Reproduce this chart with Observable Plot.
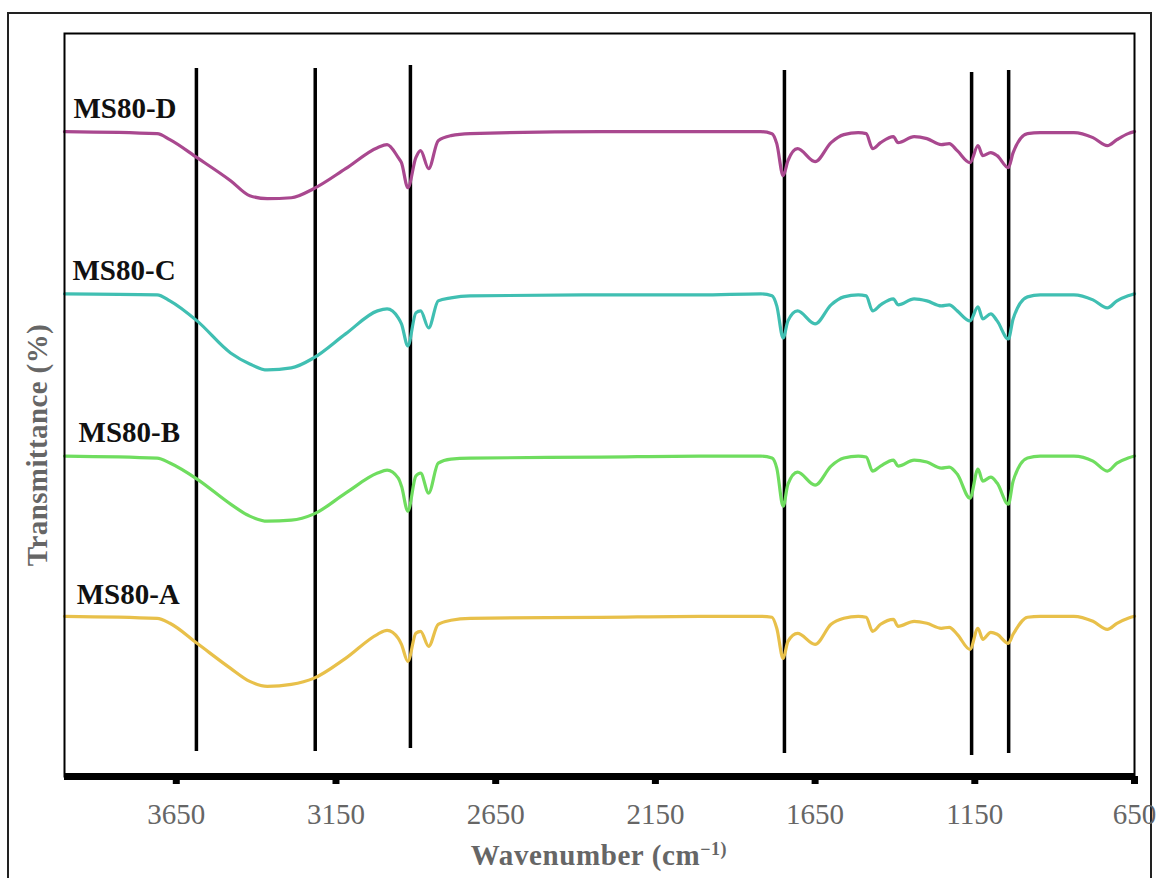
<!DOCTYPE html>
<html>
<head>
<meta charset="utf-8">
<script src="https://cdn.jsdelivr.net/npm/d3@7"></script>
<script src="https://cdn.jsdelivr.net/npm/@observablehq/plot@0.6"></script>
<style>
  body { margin: 0; background: #fff; width: 1156px; height: 878px; overflow: hidden; position: relative; font-family: "Liberation Serif", "Times New Roman", serif; }
  #outer { position: absolute; left: 7px; top: 12px; width: 1145px; height: 880px; border: 2px solid #222; box-sizing: border-box; }
  #chart { position: absolute; left: 0; top: 0; }
  #xlabel { position: absolute; left: 64px; width: 1070px; top: 838px; text-align: center; font-weight: bold; font-size: 29px; letter-spacing: 0.6px; color: #666; line-height: 34px; }
  #xlabel sup { font-size: 18px; vertical-align: 10px; line-height: 0; }
  #ylabel { position: absolute; left: 37px; top: 445px; transform: translate(-50%, -50%) rotate(-90deg); white-space: nowrap; font-weight: bold; font-size: 29px; letter-spacing: 0.4px; color: #666; }
</style>
</head>
<body>
<div id="outer"></div>
<div id="chart"></div>
<div id="ylabel">Transmittance (%)</div>
<div id="xlabel">Wavenumber (cm<sup>−1)</sup></div>
<script>
// Wavenumbers (cm-1) at which the spectra were read
const wavenumber = [4000,3710,3670,3585,3480,3420,3365,3290,3220,3120,
  3020,2990,2955,2945,2925,2900,2885,2860,2830,2790,
  2730,2320,2010,1820,1785,1770,1750,1735,1705,1650,
  1600,1560,1515,1490,1470,1445,1405,1390,1340,1300,
  1255,1230,1205,1165,1140,1125,1100,1080,1045,1030,
  985,945,840,780,735,705,670,650];

// Offset transmittance of each sample (stacked spectra)
const ms80D = [128.8,128.4,127.2,123.6,119.0,116.0,115.4,115.6,117.4,121.4,
  125.6,126.2,123.6,122.6,117.6,123.6,125.0,121.4,127.0,128.0,
  128.4,128.8,128.8,128.8,128.4,126.4,120.0,123.0,125.4,122.8,
  126.6,128.2,128.6,128.4,125.4,126.6,127.8,126.6,127.8,127.4,
  126.2,126.4,125.0,122.6,126.0,124.0,124.6,124.0,121.6,124.6,
  128.4,128.6,128.6,127.6,126.0,127.2,128.4,128.8];
const ms80C = [96.4,96.2,95.0,91.0,84.6,82.4,81.2,81.6,83.6,88.4,
  93.0,93.4,91.6,90.4,86.0,92.6,93.0,89.6,95.0,95.6,
  96.0,96.2,96.2,96.4,96.0,94.0,87.6,91.0,93.0,90.4,
  94.2,95.8,96.2,96.0,93.0,94.2,95.4,94.2,95.4,95.0,
  94.0,94.2,93.0,91.0,93.8,91.4,92.4,91.0,87.4,91.4,
  95.8,96.2,96.2,95.2,93.6,95.0,96.0,96.4];
const ms80B = [64.0,63.6,62.6,59.4,54.4,52.0,51.0,51.2,52.4,56.6,
  60.6,61.2,59.6,58.0,53.0,60.0,60.6,56.6,62.6,63.4,
  63.6,63.8,64.0,64.0,63.6,61.6,54.0,58.4,60.8,58.2,
  62.0,63.6,64.0,63.8,61.0,62.0,63.2,62.0,63.2,62.8,
  61.6,61.8,60.4,55.6,61.4,59.0,59.8,58.6,54.4,59.0,
  63.6,64.0,64.0,63.0,61.0,62.6,63.6,64.0];
const ms80A = [32.0,31.6,30.6,26.6,21.6,19.0,18.0,18.4,19.6,23.6,
  28.4,29.2,27.6,26.4,23.0,28.6,29.0,26.0,30.4,31.2,
  31.6,31.8,32.0,32.0,31.8,29.6,23.6,27.0,28.6,26.4,
  30.4,31.6,32.0,31.8,29.0,30.4,31.4,30.0,31.0,30.6,
  29.6,29.8,28.4,25.4,29.6,27.4,28.8,28.4,26.6,28.4,
  31.8,32.0,32.0,31.0,29.4,30.6,31.6,32.0];

const seriesNames = ["MS80-D", "MS80-C", "MS80-B", "MS80-A"];
const seriesValues = [ms80D, ms80C, ms80B, ms80A];
const seriesColors = ["#a9488f", "#40bfb2", "#6fdd5f", "#e8c04a"];

// Series label anchor (wavenumber, transmittance)
const labelWn = [3972, 3975, 3956, 3962];
const labelT = [133.4, 101.0, 68.6, 36.4];

// Marker (band) lines
const bandWn = [3587, 3215, 2917, 1746, 1160, 1044];
const bandTop = [141.4, 141.4, 142.0, 141.0, 140.6, 141.0];
const bandBottom = [5.0, 5.0, 5.6, 4.6, 4.2, 4.6];

const xTicks = [3650, 3150, 2650, 2150, 1650, 1150, 650];

const rows = seriesNames.flatMap((name, s) =>
  wavenumber.map((wn, i) => ({name, wn, t: seriesValues[s][i]})));
const bands = bandWn.map((wn, i) => ({wn, top: bandTop[i], bottom: bandBottom[i]}));
const labels = seriesNames.map((name, i) => ({name, wn: labelWn[i], t: labelT[i]}));

const chart = Plot.plot({
  width: 1156,
  height: 845,
  marginLeft: 64,
  marginRight: 22,
  marginTop: 33,
  marginBottom: 69,
  style: {fontFamily: "Liberation Serif, Times New Roman, serif", background: "transparent"},
  x: {domain: [4000, 650], axis: null},
  y: {domain: [0, 148.4], axis: null},
  color: {domain: seriesNames, range: seriesColors},
  marks: [
    Plot.ruleX(bands, {x: "wn", y1: "bottom", y2: "top", stroke: "black", strokeWidth: 3.5}),
    Plot.line(rows, {x: "wn", y: "t", z: "name", stroke: "name", strokeWidth: 3.2, curve: "monotone-x"}),
    Plot.text(labels, {x: "wn", y: "t", text: "name", textAnchor: "start", fontSize: 29, fontWeight: "bold", fill: "#111"}),
    Plot.frame({stroke: "black", strokeWidth: 2}),
    Plot.ruleY([0], {stroke: "black", strokeWidth: 7}),
    Plot.axisX({ticks: xTicks, tickFormat: d => String(d), tickSize: 8, strokeWidth: 7, stroke: "black",
      fill: "#666", fontSize: 29, tickPadding: 19, label: null})
  ]
});
document.getElementById("chart").appendChild(chart);
</script>
</body>
</html>
